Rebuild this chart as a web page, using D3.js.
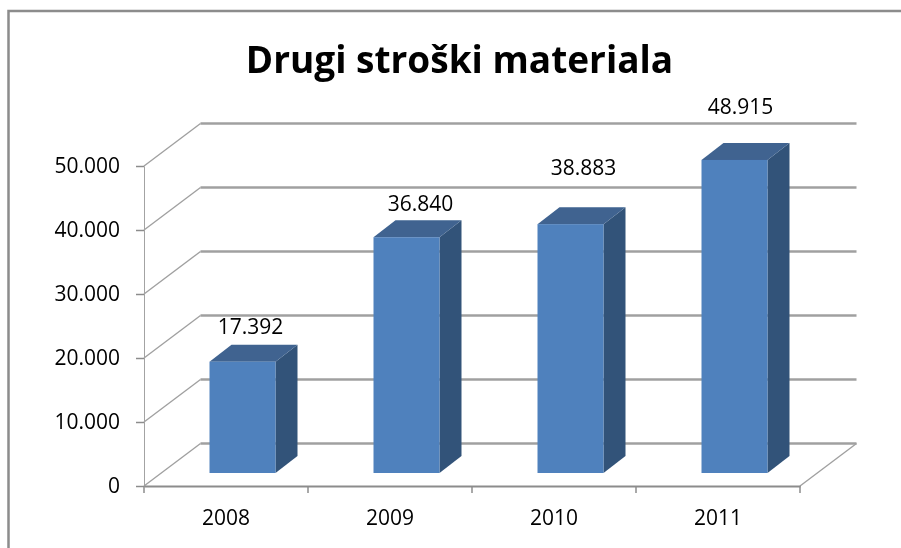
<!DOCTYPE html>
<html>
<head>
<meta charset="utf-8">
<script src="https://cdn.jsdelivr.net/npm/d3@7"></script>
<style>
body { margin:0; background:#fff; overflow:hidden; }
text { font-family:"Open Sans",sans-serif; fill:#000; }
</style>
</head>
<body>
<div id="chart"></div>
<script>
const years = ["2008","2009","2010","2011"];
const values = [17392,36840,38883,48915];
const valueLabels = ["17.392","36.840","38.883","48.915"];
const yTicks = [0,10000,20000,30000,40000,50000];

const width = 901, height = 548;
const left = 144, right = 800, zero = 486, top50 = 166;
const depthX = 56.5, depthY = 42.5; // floor skew
const barDx = 22, barDy = 17;       // bar depth
const barInset = 65.5, barW = 66, barLift = 13;
// labels were dragged by hand in the original
const labelDx = [8,14,13,6];
const labelUp = [11,9,32,29];

const fmt = d => d === 0 ? "0" : d3.format(",")(d).replace(",",".");

const root = d3.select("#chart").append("svg")
    .attr("width",width)
    .attr("height",height)
    .style("display","block");

// the source is a soft, scaled screenshot
root.append("filter")
    .attr("id","soft")
    .attr("x",0).attr("y",0).attr("width",1).attr("height",1)
    .attr("filterUnits","userSpaceOnUse")
    .attr("width",width).attr("height",height)
    .append("feGaussianBlur")
    .attr("stdDeviation",0.45);

const svg = root.append("g").attr("filter","url(#soft)");

const x = d3.scaleBand().domain(years).range([left,right]);
const y = d3.scaleLinear().domain([0,50000]).range([zero,top50]);

// frame: only left and top edges are in the crop
svg.append("path")
    .attr("d",`M8.5,548V11H901`)
    .attr("fill","none")
    .attr("stroke","#8c8c8c")
    .attr("stroke-width",2.5);

svg.append("text")
    .attr("x",459.5)
    .attr("y",73)
    .attr("text-anchor","middle")
    .style("font-size","37px")
    .style("font-weight","700")
    .text("Drugi stroški materiala");

// back wall gridlines + skewed side lines
const grid = svg.append("g");
yTicks.forEach(t => {
    grid.append("line")
        .attr("x1",left+depthX).attr("x2",right+depthX)
        .attr("y1",y(t)-depthY).attr("y2",y(t)-depthY)
        .attr("stroke","#a0a0a0")
        .attr("stroke-width",2.5);
    grid.append("line")
        .attr("x1",left).attr("x2",left+depthX)
        .attr("y1",y(t)).attr("y2",y(t)-depthY)
        .attr("stroke","#a0a0a0")
        .attr("stroke-width",1.4);
});
grid.append("line")
    .attr("x1",right).attr("x2",right+depthX)
    .attr("y1",zero).attr("y2",zero-depthY)
    .attr("stroke","#a0a0a0")
    .attr("stroke-width",1.4);

// axes
const yAxis = svg.append("g")
    .attr("transform",`translate(${left},0)`)
    .call(d3.axisLeft(y).tickValues(yTicks).tickFormat(fmt).tickSize(8).tickPadding(16));
const xAxis = svg.append("g")
    .attr("transform",`translate(0,${zero})`)
    .call(d3.axisBottom(x).tickSize(0).tickPadding(24));
// ticks between the categories
xAxis.selectAll(".sep")
    .data([left,...years.map(d => x(d)+x.bandwidth())])
    .enter()
    .append("line")
    .attr("class","sep")
    .attr("x1",d => d).attr("x2",d => d)
    .attr("y1",0).attr("y2",7)
    .attr("stroke","#8c8c8c")
    .attr("stroke-width",1.5);
yAxis.selectAll(".domain").attr("stroke","#a3a3a3");
yAxis.selectAll(".tick line").attr("stroke","#8c8c8c").attr("stroke-width",1.5);
xAxis.selectAll(".domain").attr("stroke","#8c8c8c").attr("stroke-width",2);
svg.selectAll(".tick text").style("font-size","21px").style("fill","#000");

// bars
const rows = years.map((d,i) => ({year:d,value:values[i],label:valueLabels[i],i:i}));
const bar = svg.selectAll(".bar")
    .data(rows)
    .enter()
    .append("g")
    .attr("class","bar");
const bx = d => x(d.year)+barInset;
const bTop = d => y(d.value)-barLift;
const bBot = zero-barLift;

bar.append("path") // side
    .attr("d",d => `M${bx(d)+barW},${bTop(d)}l${barDx},${-barDy}V${bBot-barDy}l${-barDx},${barDy}Z`)
    .attr("fill","#325379");
bar.append("path") // top
    .attr("d",d => `M${bx(d)},${bTop(d)}l${barDx},${-barDy}h${barW}l${-barDx},${barDy}Z`)
    .attr("fill","#3f6390");
bar.append("rect") // front
    .attr("x",bx)
    .attr("y",bTop)
    .attr("width",barW)
    .attr("height",d => bBot-bTop(d))
    .attr("fill","#4f81bd");
bar.append("text")
    .attr("x",d => bx(d)+barW/2+labelDx[d.i])
    .attr("y",d => bTop(d)-barDy-labelUp[d.i])
    .attr("text-anchor","middle")
    .style("font-size","21px")
    .text(d => d.label);
</script>
</body>
</html>
